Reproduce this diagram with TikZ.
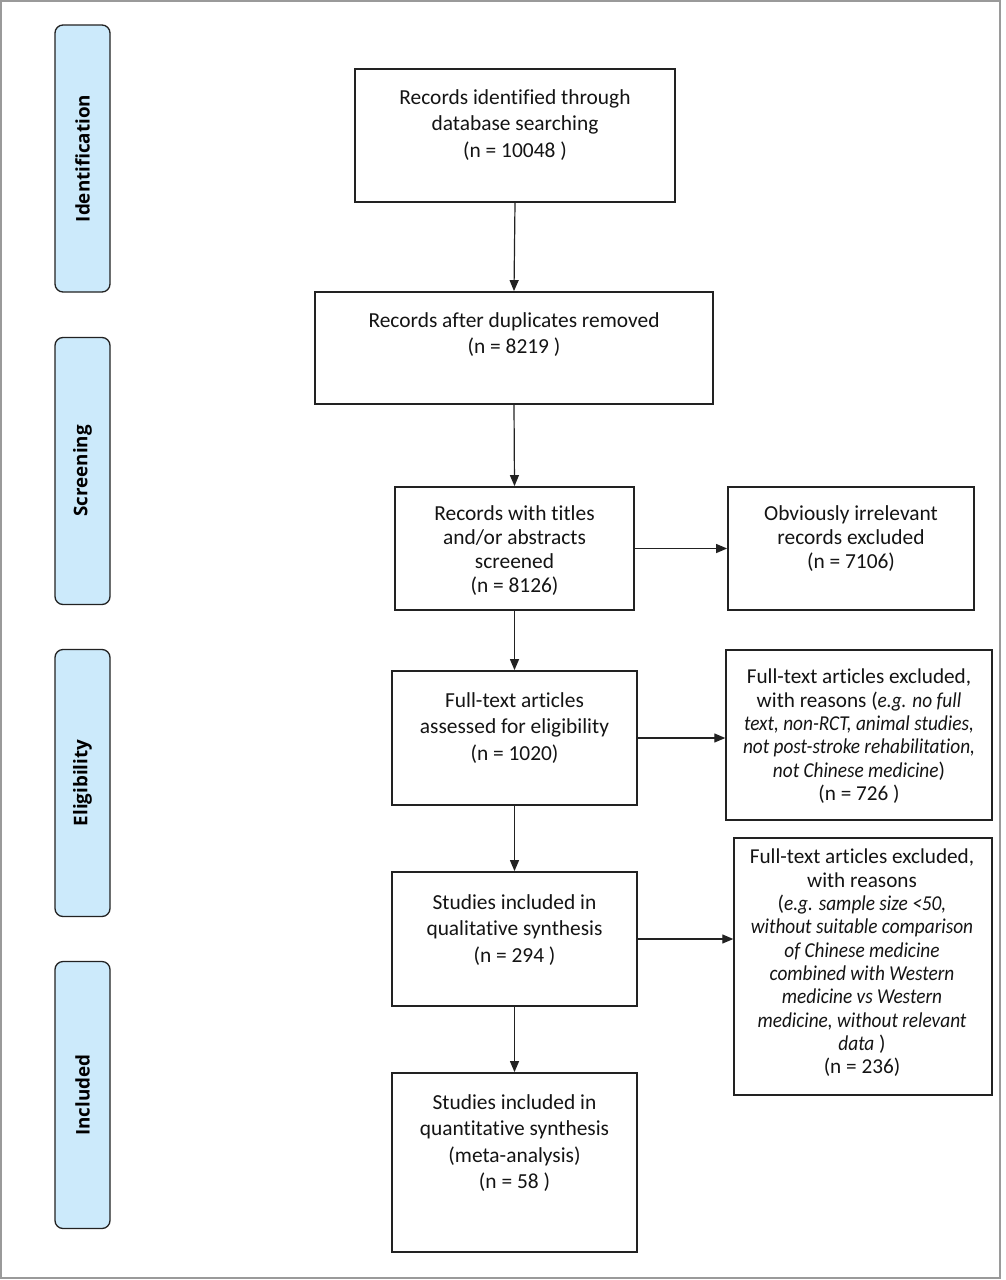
\documentclass[tikz,border=0pt]{standalone}
\usepackage{fontspec}
\setmainfont{Carlito}[Ligatures=NoCommon]
\newfontfamily\phasefont{Open Sans}
\newfontfamily\narrowfam{Carlito}[Ligatures=NoCommon, FakeStretch=0.91]
\newcommand{\nit}[1]{{\narrowfam\itshape #1}}
\usetikzlibrary{arrows.meta}
\definecolor{phaseblue}{HTML}{CCEAFB}
\definecolor{framegray}{HTML}{9A9A9A}
\definecolor{boxline}{HTML}{222222}
\tikzset{
  phase/.style={draw=boxline, line width=1.3pt, fill=phaseblue, rounded corners=8pt,
    minimum width=267pt, minimum height=55pt, rotate=90, inner sep=0pt,
    font=\phasefont\bfseries\fontsize{18.8}{22}\selectfont, text=black},
  box/.style={draw=boxline, line width=1.8pt, inner sep=0pt},
  sidebox/.style={draw=boxline, line width=1.4pt, inner sep=0pt},
  txt/.style={align=center, inner sep=0pt, anchor=north, text=black!92,
    font=\fontsize{21.4}{26.5}\selectfont},
  txtb/.style={txt, font=\fontsize{21.4}{24}\selectfont},
  stxt/.style={txt, font=\fontsize{21.2}{23.3}\selectfont},
  arr/.style={draw=boxline, line width=1.2pt, -{Triangle[length=11pt,width=9pt]}}
}
\begin{document}
\begin{tikzpicture}[x=1pt,y=-1pt]
\useasboundingbox (0,0) rectangle (1005,1280);
\fill[white] (0,0) rectangle (1005,1280);
\draw[framegray, line width=1.2pt] (1,1) rectangle (1000,1278);

% phase labels
\node[phase] (p1) at (82.5,158.5) {Identification};
\node[phase] (p2) at (82.5,471) {Screening};
\node[phase] (p3) at (82.5,783) {Eligibility};
\node[phase] (p4) at (82.5,1095) {Included};

% boxes
\node[box, minimum width=320pt, minimum height=133pt] (b1) at (515,135.5) {};
\node[box, minimum width=398pt, minimum height=112pt] (b2) at (514,348) {};
\node[box, minimum width=239pt, minimum height=123pt] (b3) at (514.5,548.5) {};
\node[box, minimum width=246pt, minimum height=123pt] (b4) at (851,548.5) {};
\node[box, minimum width=245pt, minimum height=134pt] (b5) at (514.5,738) {};
\node[sidebox, minimum width=266pt, minimum height=170pt] (b6) at (859,735) {};
\node[box, minimum width=245pt, minimum height=134pt] (b7) at (514.5,939) {};
\node[sidebox, minimum width=258pt, minimum height=257pt] (b8) at (863,966.5) {};
\node[box, minimum width=245pt, minimum height=179pt] (b9) at (514.5,1162.5) {};

% texts
\node[txt] (t1) at (515,89) {Records identified through\\database searching\\(n = 10048 )};
\node[txt] (t2) at (514,312) {Records after duplicates removed\\(n = 8219 )};
\node[txtb] (t3) at (514.5,505) {Records with titles\\and/or abstracts\\screened\\(n = 8126)};
\node[txtb] (t4) at (851,505) {Obviously irrelevant\\records excluded\\(n = 7106)};
\node[txt] (t5) at (514.5,692) {Full-text articles\\assessed for eligibility\\(n = 1020)};
\node[stxt] (t6) at (859,669) {Full-text articles excluded,\\with reasons (\nit{e.g. no full}\\\nit{text, non-RCT, animal studies,}\\\nit{not post-stroke rehabilitation,}\\\nit{not Chinese medicine})\\(n = 726 )};
\node[txt] (t7) at (514.5,894) {Studies included in\\qualitative synthesis\\(n = 294 )};
\node[stxt] (t8) at (862,849) {Full-text articles excluded,\\with reasons\\(\nit{e.g. sample size <50,}\\\nit{without suitable comparison}\\\nit{of Chinese medicine}\\\nit{combined with Western}\\\nit{medicine vs Western}\\\nit{medicine, without relevant}\\\nit{data} )\\(n = 236)};
\node[txt] (t9) at (514.5,1094) {Studies included in\\quantitative synthesis\\(meta-analysis)\\(n = 58 )};

% arrows
\draw[arr] (b1.south) -- (b2.north);
\draw[arr] (b2.south) -- (b3.north);
\draw[arr] (b3.south) -- (b5.north);
\draw[arr] (b5.south) -- (b7.north);
\draw[arr] (b7.south) -- (b9.north);
\draw[arr] (b3.east) -- (b4.west);
\draw[arr] (b5.east) -- (b5.east -| b6.west);
\draw[arr] (b7.east) -- (b7.east -| b8.west);
\end{tikzpicture}
\end{document}
